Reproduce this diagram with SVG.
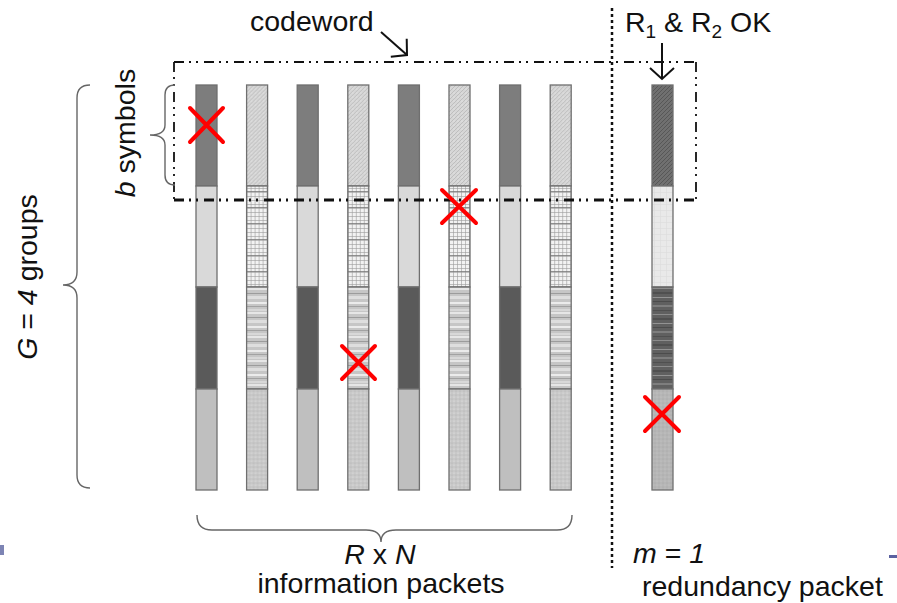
<svg xmlns="http://www.w3.org/2000/svg" width="897" height="603" viewBox="0 0 897 603">
  <style>
    .txt { font-family: "Liberation Sans", Arial, sans-serif; font-size: 28.5px; fill: #111; }
    .it { font-style: italic; }
    .brace { fill: none; stroke: #666; stroke-width: 1.4; }
    .seg { stroke: #6f6f6f; stroke-width: 1.3; }
    .cross { stroke: #ff0000; stroke-width: 4; stroke-linecap: round; }
    .box { fill: none; stroke: #111; stroke-dasharray: 10 5 2 5 2 6; }
    .arrow { fill: none; stroke: #111; stroke-width: 2; marker-end: url(#openHead); }
  </style>
  <defs>
    <marker id="openHead" markerUnits="userSpaceOnUse" markerWidth="30" markerHeight="30" refX="0" refY="0" viewBox="-15 -15 30 30" orient="auto" overflow="visible">
      <path d="M-11,-12 L0,0 L-11,12" fill="none" stroke="#111" stroke-width="2"/>
    </marker>
    <!-- light diagonal hatch -->
    <pattern id="pHatch" patternUnits="userSpaceOnUse" width="4" height="4">
      <rect width="4" height="4" fill="#d6d6d6"/>
      <path d="M0,4 L4,0 M-1,1 L1,-1 M3,5 L5,3" stroke="#b8b8b8" stroke-width="0.8"/>
      <circle cx="1" cy="1" r="0.5" fill="#efefef"/>
    </pattern>
    <!-- crosshatch grid -->
    <pattern id="pGrid" patternUnits="userSpaceOnUse" width="4" height="16">
      <rect width="4" height="16" fill="#f2f2f2"/>
      <path d="M0,0.5 H4 M0,4.5 H4 M0,8.5 H4 M0,12.5 H4 M0.5,0 V16" stroke="#9a9a9a" stroke-width="0.6"/>
      <path d="M0,15.5 H4" stroke="#777" stroke-width="0.8"/>
    </pattern>
    <!-- horizontal bands -->
    <pattern id="pStripe" patternUnits="userSpaceOnUse" width="21" height="24">
      <rect width="21" height="24" fill="#c6c6c6"/>
      <rect y="0" width="21" height="2" fill="#e6e6e6"/>
      <rect y="5" width="21" height="1" fill="#9c9c9c"/>
      <rect y="8" width="21" height="3" fill="#dedede"/>
      <rect y="14" width="21" height="2" fill="#ebebeb"/>
      <rect y="18" width="21" height="1" fill="#a2a2a2"/>
      <rect y="21" width="21" height="2" fill="#d8d8d8"/>
    </pattern>
    <!-- fine speckle -->
    <pattern id="pSpeck" patternUnits="userSpaceOnUse" width="4" height="4">
      <rect width="4" height="4" fill="#c8c8c8"/>
      <circle cx="1" cy="1" r="0.6" fill="#ececec"/>
      <circle cx="3" cy="3" r="0.5" fill="#a9a9a9"/>
    </pattern>
    <!-- redundancy packet fills -->
    <pattern id="pDarkHatch" patternUnits="userSpaceOnUse" width="4" height="4">
      <rect width="4" height="4" fill="#707070"/>
      <path d="M0,4 L4,0 M-1,1 L1,-1 M3,5 L5,3" stroke="#555" stroke-width="0.9"/>
    </pattern>
    <pattern id="pFaint" patternUnits="userSpaceOnUse" width="6" height="6">
      <rect width="6" height="6" fill="#e9e9e9"/>
      <path d="M0,0.5 H6 M0.5,0 V6" stroke="#dcdcdc" stroke-width="0.6"/>
    </pattern>
    <pattern id="pDarkStripe" patternUnits="userSpaceOnUse" width="21" height="26">
      <rect width="21" height="26" fill="#606060"/>
      <rect y="2" width="21" height="1" fill="#8c8c8c"/>
      <rect y="6" width="21" height="2" fill="#505050"/>
      <rect y="11" width="21" height="1" fill="#939393"/>
      <rect y="15" width="21" height="1" fill="#4c4c4c"/>
      <rect y="19" width="21" height="2" fill="#7e7e7e"/>
      <rect y="24" width="21" height="1" fill="#505050"/>
    </pattern>
    <pattern id="pGreySpeck" patternUnits="userSpaceOnUse" width="4" height="4">
      <rect width="4" height="4" fill="#b6b6b6"/>
      <circle cx="1" cy="1" r="0.6" fill="#cacaca"/>
      <circle cx="3" cy="3" r="0.5" fill="#a0a0a0"/>
    </pattern>
    <!-- packet templates -->
    <g id="solidPacket">
      <rect class="seg" x="0" y="85" width="21" height="101" fill="#7d7d7d"/>
      <rect class="seg" x="0" y="186" width="21" height="101" fill="#d9d9d9"/>
      <rect class="seg" x="0" y="287" width="21" height="102" fill="#5a5a5a"/>
      <rect class="seg" x="0" y="389" width="21" height="101" fill="#bfbfbf"/>
    </g>
    <g id="patternPacket">
      <rect class="seg" x="0" y="85" width="21" height="101" fill="url(#pHatch)"/>
      <rect class="seg" x="0" y="186" width="21" height="101" fill="url(#pGrid)"/>
      <rect class="seg" x="0" y="287" width="21" height="102" fill="url(#pStripe)"/>
      <rect class="seg" x="0" y="389" width="21" height="101" fill="url(#pSpeck)"/>
    </g>
  </defs>

  <rect width="897" height="603" fill="#ffffff"/>

  <!-- information packets -->
  <g id="packet-1"><use href="#solidPacket" x="196"/></g>
  <g id="packet-2"><use href="#patternPacket" x="246.6"/></g>
  <g id="packet-3"><use href="#solidPacket" x="297.2"/></g>
  <g id="packet-4"><use href="#patternPacket" x="347.8"/></g>
  <g id="packet-5"><use href="#solidPacket" x="398.4"/></g>
  <g id="packet-6"><use href="#patternPacket" x="449"/></g>
  <g id="packet-7"><use href="#solidPacket" x="499.6"/></g>
  <g id="packet-8"><use href="#patternPacket" x="550.2"/></g>

  <!-- redundancy packet -->
  <g id="redundancy-packet">
    <rect class="seg" x="652" y="85" width="21" height="101" fill="url(#pDarkHatch)"/>
    <rect class="seg" x="652" y="186" width="21" height="101" fill="url(#pFaint)"/>
    <rect class="seg" x="652" y="287" width="21" height="102" fill="url(#pDarkStripe)"/>
    <rect class="seg" x="652" y="389" width="21" height="101" fill="url(#pGreySpeck)"/>
  </g>

  <!-- codeword frame -->
  <g id="codeword-frame">
    <path class="box" d="M174,62 H696" stroke-width="2"/>
    <path class="box" d="M174,62 V200" stroke-width="1.8"/>
    <path class="box" d="M696,62 V200" stroke-width="1.8"/>
    <path class="box" d="M174,200 H696" stroke-width="3"/>
  </g>

  <!-- separator between information and redundancy -->
  <g id="separator">
    <path d="M612,8 V568" fill="none" stroke="#111" stroke-width="2.5" stroke-dasharray="3 3"/>
  </g>

  <!-- braces -->
  <g id="brace-groups">
    <path class="brace" d="M90,85 Q77,85 77,98 L77,272 Q77,285 63,285 Q77,285 77,298 L77,475 Q77,488 90,488"/>
    <text class="txt" transform="rotate(-90 37 277)" x="37" y="277" text-anchor="middle"><tspan class="it">G</tspan> = <tspan class="it">4</tspan> groups</text>
  </g>
  <g id="brace-symbols">
    <path class="brace" d="M175,85 Q165,85 165,95 L165,125 Q165,135 150,135 Q165,135 165,145 L165,175 Q165,185 175,185"/>
    <text class="txt" transform="rotate(-90 135 133)" x="135" y="133" text-anchor="middle"><tspan class="it">b</tspan> symbols</text>
  </g>
  <g id="brace-packets">
    <path class="brace" d="M197,515 Q197,530 212,530 L366,530 Q381,530 381,542 Q381,530 396,530 L557,530 Q572,530 572,515"/>
    <text class="txt" x="380" y="564" text-anchor="middle"><tspan class="it">R</tspan> x <tspan class="it">N</tspan></text>
    <text class="txt" x="381" y="593" text-anchor="middle">information packets</text>
  </g>
  <g id="redundancy-label">
    <text class="txt" x="633" y="563"><tspan class="it">m</tspan> = <tspan class="it">1</tspan></text>
    <text class="txt" x="642" y="596">redundancy packet</text>
  </g>

  <!-- labels with pointers -->
  <g id="codeword-label">
    <text class="txt" x="250" y="31">codeword</text>
  </g>
  <g id="check-label">
    <text class="txt" x="625" y="32">R<tspan font-size="19" dy="6">1</tspan><tspan dy="-6"> &amp; R</tspan><tspan font-size="19" dy="6">2</tspan><tspan dy="-6"> OK</tspan></text>
  </g>
  <g id="connectors">
    <path class="arrow" d="M381,32 L407,55"/>
    <path class="arrow" d="M662,43 L662,79"/>
  </g>

  <!-- lost symbols -->
  <g id="erasures">
    <path class="cross" d="M190,108 L223,142 M223,108 L190,142"/>
    <path class="cross" d="M442,190 L476,223 M476,190 L442,223"/>
    <path class="cross" d="M342,346 L375,379 M375,346 L342,379"/>
    <path class="cross" d="M645,397 L679,431 M679,397 L645,431"/>
  </g>

  <!-- slide edge remnants -->
  <rect x="0" y="545" width="4" height="10" fill="#7d84b4"/>
  <rect x="889" y="555" width="8" height="3" fill="#5b61a0"/>
</svg>
